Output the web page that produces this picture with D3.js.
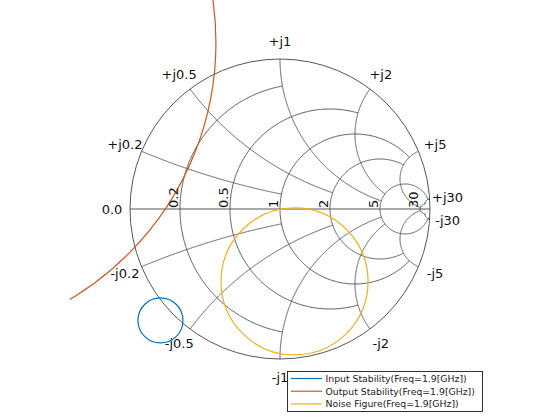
<!DOCTYPE html>
<html>
<head>
<meta charset="utf-8">
<script src="https://cdn.jsdelivr.net/npm/d3@7"></script>
<style>
  html, body { margin: 0; padding: 0; background: #fff; }
  svg { display: block; }
  text { font-family: "DejaVu Sans", sans-serif; }
</style>
</head>
<body>
<script>
// ---- Grid definition (smithchart Values: circle values and their arc limits)
const gridValues = [0.2, 0.5, 1, 2, 5, 30];
const gridLimits = [1, 2, 5, 5, 30, 30];
const realLabels = ["0.2", "0.5", "1", "2", "5", "30"];
const reactanceValues = [0.2, 0.5, 1, 2, 5, 30];
const posReactLabels = ["+j0.2", "+j0.5", "+j1", "+j2", "+j5", "+j30"];
const negReactLabels = ["-j0.2", "-j0.5", "-j1", "-j2", "-j5", "-j30"];
const zeroLabel = "0.0";

// ---- Circles (reflection-coefficient plane)
const seriesNames = ["Input Stability(Freq=1.9[GHz])", "Output Stability(Freq=1.9[GHz])", "Noise Figure(Freq=1.9[GHz])"];
const centerRe = [-0.797, -2.42, 0.097];
const centerIm = [-0.743, 1.11, -0.483];
const radius = [0.150, 1.993, 0.490];
const colors = ["#0072BD", "#D95319", "#EDB120"];

const W = 560, H = 420;
const svg = d3.select("body").append("svg").attr("width", W).attr("height", H);

const xS = d3.scaleLinear().domain([-1, 1]).range([130, 430]);
const yS = d3.scaleLinear().domain([-1, 1]).range([359, 59]);
const line = d3.line().x(d => xS(d[0])).y(d => yS(d[1]));

function gamma(r, x) { // z = r + jx -> Gamma
  const nr = r - 1, ni = x, dr = r + 1, di = x;
  const den = dr * dr + di * di;
  return [(nr * dr + ni * di) / den, (ni * dr - nr * di) / den];
}

const gridG = svg.append("g").attr("fill", "none").attr("stroke", "#555555").attr("stroke-width", 1);

// outer circle
gridG.append("circle").attr("cx", xS(0)).attr("cy", yS(0)).attr("r", xS(1) - xS(0));
// real axis
gridG.append("path").attr("d", line([[-1, 0], [1, 0]]));

const N = 400;
// resistance circles, limited to |x| <= limit
gridValues.forEach((r, i) => {
  const lim = gridLimits[i];
  const c = r / (1 + r), rho = 1 / (1 + r);
  const e = gamma(r, lim);
  let t0 = Math.atan2(e[1], e[0] - c);
  if (t0 < 0) t0 += 2 * Math.PI;
  const t1 = 2 * Math.PI - t0;
  const pts = d3.range(N + 1).map(k => {
    const t = t0 + (t1 - t0) * k / N;
    return [c + rho * Math.cos(t), rho * Math.sin(t)];
  });
  gridG.append("path").attr("d", line(pts));
});

// reactance arcs, limited to r <= limit
gridValues.forEach((xv, i) => {
  const lim = gridLimits[i];
  const cy = 1 / xv, rho = 1 / xv;
  const g0 = gamma(0, xv), g1 = gamma(lim, xv);
  let a0 = Math.atan2(g0[1] - cy, g0[0] - 1);
  let a1 = Math.atan2(g1[1] - cy, g1[0] - 1);
  while (a1 < a0) a1 += 2 * Math.PI;
  const pts = d3.range(N + 1).map(k => {
    const a = a0 + (a1 - a0) * k / N;
    return [1 + rho * Math.cos(a), cy + rho * Math.sin(a)];
  });
  gridG.append("path").attr("d", line(pts));
  gridG.append("path").attr("d", line(pts.map(p => [p[0], -p[1]])));
});

// clip for stability/noise circles
const R = xS(1) - xS(0);
svg.append("clipPath").attr("id", "clipc").append("circle")
  .attr("cx", xS(0)).attr("cy", yS(0)).attr("r", 1.525 * R);

const curveG = svg.append("g").attr("clip-path", "url(#clipc)").attr("fill", "none");
seriesNames.forEach((name, i) => {
  curveG.append("circle")
    .attr("cx", xS(centerRe[i])).attr("cy", yS(centerIm[i]))
    .attr("r", xS(radius[i]) - xS(0))
    .attr("stroke", colors[i]).attr("stroke-width", 1.2);
});

// labels
const labG = svg.append("g").attr("fill", "#111").attr("font-size", 13);
const LR = 168 / 150; // label radius in gamma units
function outerLabel(g, txt) {
  const ang = Math.atan2(g[1], g[0]);
  labG.append("text")
    .attr("x", xS(LR * Math.cos(ang))).attr("y", yS(LR * Math.sin(ang)))
    .attr("text-anchor", "middle").attr("dominant-baseline", "central")
    .text(txt);
}
outerLabel([-1, 0], zeroLabel);
reactanceValues.forEach((xv, i) => {
  const g = gamma(0, xv);
  outerLabel(g, posReactLabels[i]);
  outerLabel([g[0], -g[1]], negReactLabels[i]);
});
gridValues.forEach((r, i) => {
  const gx = (r - 1) / (r + 1);
  const px = xS(gx) - 2.5, py = yS(0) - 1;
  labG.append("text")
    .attr("transform", `translate(${px},${py}) rotate(-90)`)
    .attr("text-anchor", "start")
    .text(realLabels[i]);
});

// legend
const lg = svg.append("g");
lg.append("rect").attr("x", 287.5).attr("y", 371.5).attr("width", 195).attr("height", 40)
  .attr("fill", "#fff").attr("stroke", "#1a1a1a").attr("stroke-width", 0.9);
seriesNames.forEach((name, i) => {
  const yy = 378.5 + i * 12.7;
  lg.append("line").attr("x1", 291).attr("x2", 322).attr("y1", yy).attr("y2", yy)
    .attr("stroke", colors[i]).attr("stroke-width", 1.2);
  lg.append("text").attr("x", 325.5).attr("y", yy).attr("dominant-baseline", "central")
    .attr("font-size", 9.3).attr("fill", "#1a1a1a").text(name);
});
</script>
</body>
</html>
